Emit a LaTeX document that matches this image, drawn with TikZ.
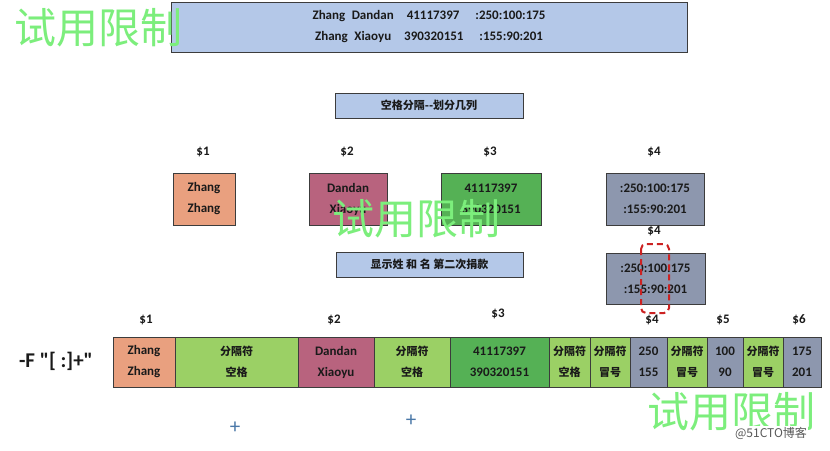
\documentclass[tikz,border=0pt]{standalone}
\usepackage{fontspec}
\setmainfont{Carlito}
\newfontfamily\optfont{Carlito}
\newfontfamily\cjk{Noto Sans CJK SC}
\definecolor{edge}{HTML}{3C3C3C}
\definecolor{txt}{HTML}{1A1A1A}
\definecolor{lblue}{HTML}{B4C8E8}
\definecolor{salmon}{HTML}{E9A07F}
\definecolor{rose}{HTML}{B8637E}
\definecolor{dgreen}{HTML}{55B155}
\definecolor{lgreen}{HTML}{9BD065}
\definecolor{grayblue}{HTML}{8D97AE}
\definecolor{wmgreen}{HTML}{7CEE7C}
\definecolor{reddash}{HTML}{CC2222}
\definecolor{plusblue}{HTML}{4A78A8}
\begin{document}
\begin{tikzpicture}[x=1pt,y=-1pt,
  cell/.style={draw=edge, line width=0.9pt, inner sep=0pt, align=center, text=txt,
    font=\bfseries\fontsize{13}{21}\selectfont},
  cjkcell/.style={cell, font=\cjk\bfseries\fontsize{11}{21}\selectfont},
  lab/.style={inner sep=0pt, text=txt, font=\bfseries\fontsize{13}{14}\selectfont},
  wm/.style={inner sep=0pt, text=wmgreen, font=\cjk\fontsize{42}{42}\selectfont},
  plusmark/.style={inner sep=0pt, text=plusblue, font=\fontsize{21}{21}\selectfont},
  hl/.style={draw=reddash, line width=2pt, dash pattern=on 6pt off 4pt, rounded corners=5pt}
]
\useasboundingbox (0,0) rectangle (830,450);
\fill[white] (0,0) rectangle (830,450);

% top
\node[cell, fill=lblue, minimum width=516, minimum height=50] (top) at (429,27)
  {Zhang\enspace Dandan\quad 41117397\quad\ :250:100:175\\Zhang\enspace Xiaoyu\quad 390320151\quad\ :155:90:201};
\node[cjkcell, fill=lblue, minimum width=188, minimum height=25] (split) at (429,105.5) {空格分隔--划分几列};

% row 1
\node[lab] (l1) at (203,152) {\$1};
\node[lab] (l2) at (347,152) {\$2};
\node[lab] (l3) at (490,152) {\$3};
\node[lab] (l4) at (654,152) {\$4};
\node[cell, fill=salmon, minimum width=62, minimum height=52] (a1) at (204,199) {Zhang\\Zhang};
\node[cell, fill=rose, minimum width=78, minimum height=52] (a2) at (348,199) {Dandan\\Xiaoyu};
\node[cell, fill=dgreen, minimum width=100, minimum height=52] (a3) at (491,199) {41117397\\390320151};
\node[cell, fill=grayblue, minimum width=98, minimum height=52] (a4) at (655,199) {:250:100:175\\:155:90:201};

% row 2
\node[lab] (l4b) at (654,231) {\$4};
\node[cjkcell, fill=lblue, minimum width=187, minimum height=25] (show) at (429.5,264.5) {显示姓 和 名 第二次捐款};
\node[cell, fill=grayblue, minimum width=99, minimum height=51] (b4) at (655.5,278.5) {:250:100:175\\:155:90:201};
\draw[hl] (641,244) rectangle (669,313);

% row 3 labels
\node[lab] (m1) at (146,320) {\$1};
\node[lab] (m2) at (334,320) {\$2};
\node[lab] (m3) at (498,314) {\$3};
\node[lab] (m4) at (652,320) {\$4};
\node[lab] (m5) at (723,320) {\$5};
\node[lab] (m6) at (799,320) {\$6};

\node[inner sep=0pt, text=txt, font=\optfont\bfseries\fontsize{21}{22}\selectfont] (opt) at (56,361) {-F "[ :]+"};

% row 3 cells
\node[cell, fill=salmon, minimum width=62, minimum height=50] (c1) at (144,362) {Zhang\\Zhang};
\node[cjkcell, fill=lgreen, minimum width=123, minimum height=50] (c2) at (236.5,362) {分隔符\\空格};
\node[cell, fill=rose, minimum width=76, minimum height=50] (c3) at (336,362) {Dandan\\Xiaoyu};
\node[cjkcell, fill=lgreen, minimum width=76, minimum height=50] (c4) at (412,362) {分隔符\\空格};
\node[cell, fill=dgreen, minimum width=99, minimum height=50] (c5) at (499.5,362) {41117397\\390320151};
\node[cjkcell, fill=lgreen, minimum width=41, minimum height=50] (c6) at (569.5,362) {分隔符\\空格};
\node[cjkcell, fill=lgreen, minimum width=40, minimum height=50] (c7) at (610,362) {分隔符\\冒号};
\node[cell, fill=grayblue, minimum width=37, minimum height=50] (c8) at (648.5,362) {250\\155};
\node[cjkcell, fill=lgreen, minimum width=40, minimum height=50] (c9) at (687,362) {分隔符\\冒号};
\node[cell, fill=grayblue, minimum width=36, minimum height=50] (c10) at (725,362) {100\\90};
\node[cjkcell, fill=lgreen, minimum width=40, minimum height=50] (c11) at (763,362) {分隔符\\冒号};
\node[cell, fill=grayblue, minimum width=38, minimum height=50] (c12) at (802,362) {175\\201};

% plus signs
\node[plusmark] (p1) at (235,428) {+};
\node[plusmark] (p2) at (411,421) {+};

% watermarks
\node[wm] (w1) at (98.5,27.5) {试用限制};
\node[wm] (w2) at (416,219) {试用限制};
\node[wm] (w3) at (731,412) {试用限制};
\node[inner sep=1pt, fill=white, text=black!65, font=\cjk\fontsize{12}{12}\selectfont] (brand) at (771,433) {@51CTO博客};
\end{tikzpicture}
\end{document}
